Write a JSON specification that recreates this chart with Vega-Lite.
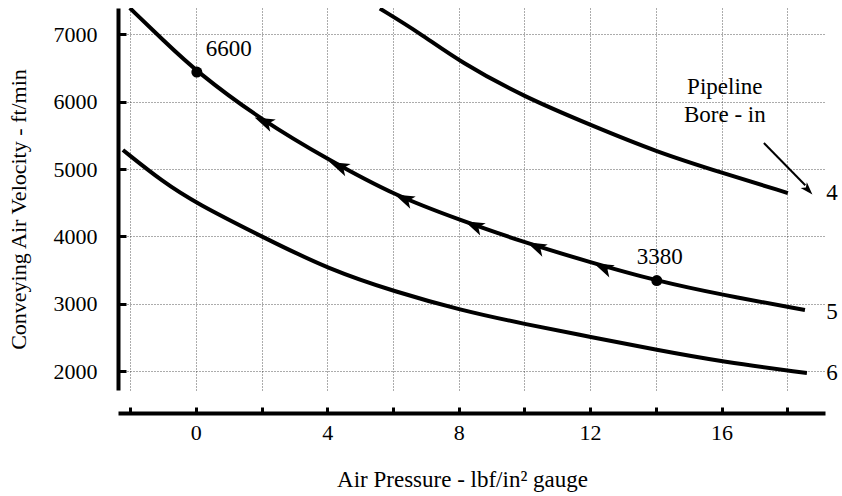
{
  "$schema": "https://vega.github.io/schema/vega-lite/v6.json",
  "width": 707,
  "height": 382,
  "autosize": {"type": "none"},
  "padding": {"left": 118, "top": 8, "right": 17, "bottom": 106},
  "background": "white",
  "config": {
    "view": {"stroke": null},
    "font": "Liberation Serif, Times New Roman, serif",
    "text": {"font": "Liberation Serif, Times New Roman, serif", "fontSize": 23, "color": "black"}
  },
  "datasets": {
    "curves": [
      {"bore": "4", "p": 5.6, "v": 7385},
      {"bore": "4", "p": 6.82, "v": 7021},
      {"bore": "4", "p": 8.04, "v": 6591},
      {"bore": "4", "p": 10.0, "v": 6071},
      {"bore": "4", "p": 12.02, "v": 5655},
      {"bore": "4", "p": 14.03, "v": 5254},
      {"bore": "4", "p": 16.04, "v": 4942},
      {"bore": "4", "p": 18.02, "v": 4645},
      {"bore": "5", "p": -2.01, "v": 7393},
      {"bore": "5", "p": -1.0, "v": 6918},
      {"bore": "5", "p": 0.03, "v": 6442},
      {"bore": "5", "p": 2.04, "v": 5715},
      {"bore": "5", "p": 4.05, "v": 5136},
      {"bore": "5", "p": 6.09, "v": 4600},
      {"bore": "5", "p": 8.04, "v": 4245},
      {"bore": "5", "p": 9.95, "v": 3918},
      {"bore": "5", "p": 11.98, "v": 3621},
      {"bore": "5", "p": 14.03, "v": 3339},
      {"bore": "5", "p": 16.04, "v": 3131},
      {"bore": "5", "p": 18.54, "v": 2908},
      {"bore": "6", "p": -2.22, "v": 5284},
      {"bore": "6", "p": -1.0, "v": 4809},
      {"bore": "6", "p": 0.0, "v": 4497},
      {"bore": "6", "p": 2.04, "v": 3990},
      {"bore": "6", "p": 4.05, "v": 3510},
      {"bore": "6", "p": 6.09, "v": 3175},
      {"bore": "6", "p": 8.04, "v": 2908},
      {"bore": "6", "p": 10.0, "v": 2700},
      {"bore": "6", "p": 12.02, "v": 2507},
      {"bore": "6", "p": 14.03, "v": 2316},
      {"bore": "6", "p": 16.04, "v": 2138},
      {"bore": "6", "p": 18.6, "v": 1972}
    ],
    "dots": [
      {"p": 0.03, "v": 6442},
      {"p": 14.03, "v": 3345}
    ],
    "dotLabels": [
      {"p": 1.0, "v": 6780, "label": "6600"},
      {"p": 14.12, "v": 3695, "label": "3380"}
    ],
    "arrows": [
      {"p": 2.1, "v": 5700},
      {"p": 4.38, "v": 5040},
      {"p": 6.36, "v": 4556},
      {"p": 8.49, "v": 4160},
      {"p": 10.38, "v": 3845},
      {"p": 12.42, "v": 3535}
    ],
    "boreLabels": [
      {"p": 19.36, "v": 4645, "label": "4"},
      {"p": 19.36, "v": 2878, "label": "5"},
      {"p": 19.36, "v": 1973, "label": "6"}
    ],
    "legendText": [
      {"p": 16.1, "v": 6220, "label": "Pipeline"},
      {"p": 16.1, "v": 5804, "label": "Bore - in"}
    ],
    "pointer": [
      {"p": 17.29, "v": 5388, "p2": 18.55, "v2": 4760}
    ],
    "pointerHead": [
      {"p": 18.62, "v": 4700}
    ]
  },
  "layer": [
    {
      "data": {"name": "curves"},
      "mark": {"type": "line", "color": "black", "strokeWidth": 4, "interpolate": "basis", "clip": true},
      "encoding": {
        "x": {
          "field": "p", "type": "quantitative",
          "scale": {"domain": [-2.37, 19.15], "nice": false, "zero": false},
          "axis": {
            "values": [-2, 0, 2, 4, 6, 8, 10, 12, 14, 16, 18],
            "labelExpr": "datum.value % 4 == 0 ? datum.label : ''",
            "title": "Air Pressure - lbf/in² gauge",
            "titleFont": "Liberation Serif, Times New Roman, serif",
            "titleFontSize": 23,
            "titleFontWeight": "normal",
            "titleColor": "black",
            "titlePadding": 25,
            "titleX": 344,
            "labelFont": "Liberation Serif, Times New Roman, serif",
            "labelFontSize": 22,
            "labelColor": "black",
            "labelPadding": 15,
            "offset": 23,
            "domainColor": "black",
            "domainWidth": 4,
            "tickColor": "black",
            "tickSize": -6,
            "tickWidth": 3,
            "grid": true,
            "gridColor": "#222",
            "gridDash": [1, 2],
            "gridWidth": 1,
            "gridOpacity": 0.75
          }
        },
        "y": {
          "field": "v", "type": "quantitative",
          "scale": {"domain": [1720, 7393], "nice": false, "zero": false},
          "axis": {
            "values": [2000, 3000, 4000, 5000, 6000, 7000],
            "format": "d",
            "title": "Conveying Air Velocity - ft/min",
            "titleFont": "Liberation Serif, Times New Roman, serif",
            "titleFontSize": 22,
            "titleFontWeight": "normal",
            "titleColor": "black",
            "titleX": -100,
            "titleY": 201,
            "titleBaseline": "middle",
            "labelFont": "Liberation Serif, Times New Roman, serif",
            "labelFontSize": 22,
            "labelColor": "black",
            "labelPadding": 29,
            "domainColor": "black",
            "domainWidth": 4,
            "tickColor": "black",
            "tickSize": -8,
            "tickWidth": 3,
            "grid": true,
            "gridColor": "#222",
            "gridDash": [1, 2],
            "gridWidth": 1,
            "gridOpacity": 0.75
          }
        },
        "detail": {"field": "bore", "type": "nominal"}
      }
    },
    {
      "data": {"name": "dots"},
      "mark": {"type": "point", "shape": "circle", "filled": true, "color": "black", "opacity": 1, "size": 121},
      "encoding": {
        "x": {"field": "p", "type": "quantitative"},
        "y": {"field": "v", "type": "quantitative"}
      }
    },
    {
      "data": {"name": "arrows"},
      "mark": {"type": "point", "shape": "M -1 0 L 0.8 -0.6 L 0.35 0 L 0.8 0.6 Z", "filled": true, "color": "black", "opacity": 1, "size": 500, "angle": 24},
      "encoding": {
        "x": {"field": "p", "type": "quantitative"},
        "y": {"field": "v", "type": "quantitative"}
      }
    },
    {
      "data": {"name": "dotLabels"},
      "mark": {"type": "text", "align": "center", "baseline": "middle", "fontSize": 23},
      "encoding": {
        "x": {"field": "p", "type": "quantitative"},
        "y": {"field": "v", "type": "quantitative"},
        "text": {"field": "label"}
      }
    },
    {
      "data": {"name": "boreLabels"},
      "mark": {"type": "text", "align": "center", "baseline": "middle", "fontSize": 23},
      "encoding": {
        "x": {"field": "p", "type": "quantitative"},
        "y": {"field": "v", "type": "quantitative"},
        "text": {"field": "label"}
      }
    },
    {
      "data": {"name": "legendText"},
      "mark": {"type": "text", "align": "center", "baseline": "middle", "fontSize": 23},
      "encoding": {
        "x": {"field": "p", "type": "quantitative"},
        "y": {"field": "v", "type": "quantitative"},
        "text": {"field": "label"}
      }
    },
    {
      "data": {"name": "pointer"},
      "mark": {"type": "rule", "color": "black", "strokeWidth": 2},
      "encoding": {
        "x": {"field": "p", "type": "quantitative"},
        "y": {"field": "v", "type": "quantitative"},
        "x2": {"field": "p2"},
        "y2": {"field": "v2"}
      }
    },
    {
      "data": {"name": "pointerHead"},
      "mark": {"type": "point", "shape": "M 1 0 L -0.8 -0.6 L -0.35 0 L -0.8 0.6 Z", "filled": true, "color": "black", "opacity": 1, "size": 200, "angle": 47},
      "encoding": {
        "x": {"field": "p", "type": "quantitative"},
        "y": {"field": "v", "type": "quantitative"}
      }
    }
  ]
}
